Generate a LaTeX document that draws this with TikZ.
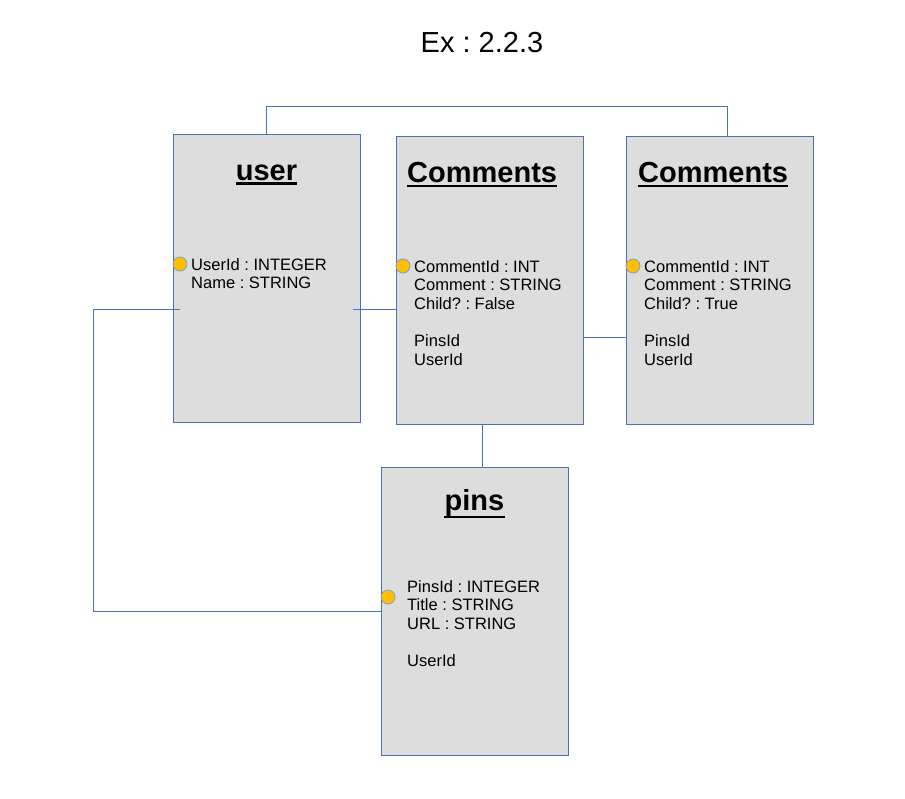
\documentclass[tikz,border=0pt]{standalone}
\usepackage{fontspec}
\setmainfont{Liberation Sans}
\frenchspacing
\definecolor{boxblue}{HTML}{4A72B5}
\definecolor{boxgray}{HTML}{DDDDDD}
\definecolor{keyyellow}{HTML}{FFBF00}
\begin{document}
\begin{tikzpicture}[x=1pt,y=-1pt,
  table/.style={draw=boxblue,fill=boxgray,line width=0.9pt,minimum width=187pt,minimum height=288pt,inner sep=0pt},
  tname/.style={font=\fontsize{29}{34}\selectfont\bfseries,inner sep=0pt},
  uline/.style={line width=2.6pt},
  fields/.style={font=\fontsize{16.5}{18.6}\selectfont,align=left,anchor=north west,inner sep=0pt},
  key/.style={circle,draw=boxblue!70,fill=keyyellow,minimum size=14pt,inner sep=0pt,line width=0.8pt},
  link/.style={boxblue,line width=0.9pt}]
\useasboundingbox (0,0) rectangle (905,798);
\node[font=\fontsize{29}{34}\selectfont,inner sep=0pt,anchor=base] (heading) at (482,52) {Ex : 2.2.3};
% tables
\node[table] (user) at (266.5,278) {};
\node[table] (com1) at (489.5,280) {};
\node[table] (com2) at (719.5,280) {};
\node[table] (pins) at (474.5,611) {};
% links
\coordinate (userR) at (353,309);
\coordinate (userL) at (180,309);
\draw[link] (user.north) -- ++(0,-27) -| (com2.north -| 727,0);
\draw[link] (userR) -- (userR -| com1.west);
\draw[link] (userL) -- ++(-87,0) |- (pins.west);
\draw[link] (com1.east |- 0,337) -- (com2.west |- 0,337);
\draw[link] (com1.south -| 482,0) -- (pins.north -| 482,0);
% titles
\node[tname,anchor=base] (userT) at (266.5,180) {user};
\node[tname,anchor=base west] (com1T) at (407,182) {Comments};
\node[tname,anchor=base west] (com2T) at (638,182) {Comments};
\node[tname,anchor=base] (pinsT) at (474.5,510) {pins};
\foreach \t/\d in {userT/3.5,com1T/4,com2T/4,pinsT/7}
  \draw[uline] ([yshift=-\d pt]\t.base west) -- ([yshift=-\d pt]\t.base east);
% fields
\node[fields] (userF) at (191,258) {UserId : INTEGER\\Name : STRING};
\node[fields] (com1F) at (414,260) {CommentId : INT\\Comment : STRING\\Child? : False\\[18.6pt]PinsId\\UserId};
\node[fields] (com2F) at (644,260) {CommentId : INT\\Comment : STRING\\Child? : True\\[18.6pt]PinsId\\UserId};
\node[fields] (pinsF) at (407,580) {PinsId : INTEGER\\Title : STRING\\URL : STRING\\[18.6pt]UserId};
% keys
\node[key] (userK) at (180,264) {};
\node[key] (com1K) at (403,266) {};
\node[key] (com2K) at (633,266) {};
\node[key] (pinsK) at (388,597) {};
\end{tikzpicture}
\end{document}
